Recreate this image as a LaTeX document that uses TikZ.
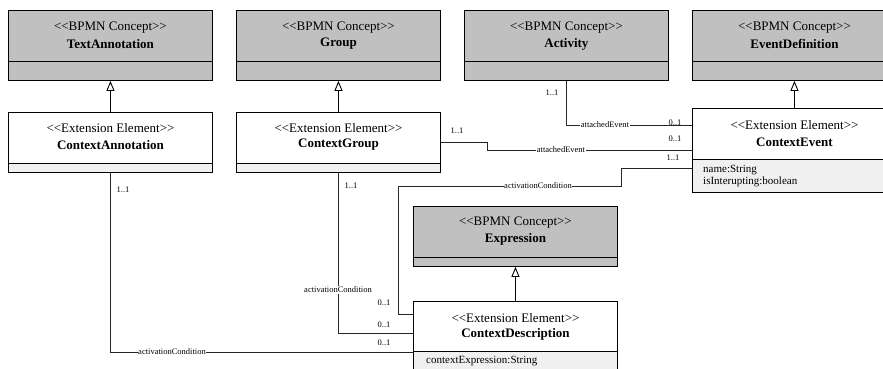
\documentclass[tikz,border=0pt]{standalone}
\usepackage{fontspec}
\setmainfont{Liberation Serif}
\usetikzlibrary{arrows.meta}
\definecolor{headgray}{RGB}{192,192,192}
\definecolor{attrgray}{RGB}{240,240,240}
\newcommand\stereo[1]{<\kern0pt<#1>\kern0pt>}
\tikzset{
  cls/.style={draw=black, line width=0.9pt, minimum width=204pt, anchor=north west, inner sep=0pt},
  stype/.style={font=\fontsize{13}{14}\selectfont, inner sep=0pt},
  cname/.style={font=\fontsize{13}{14}\selectfont\bfseries, inner sep=0pt},
  attr/.style={font=\fontsize{11}{12}\selectfont, inner sep=0pt, anchor=west},
  conn/.style={draw=black!85, line width=0.9pt},
  inh/.style={draw=black, line width=0.9pt, -{Triangle[open, length=10pt, width=8pt]}},
  lbl/.style={font=\fontsize{8.5}{9}\selectfont, fill=white, inner sep=0.6pt},
  mult/.style={font=\fontsize{8.5}{9}\selectfont, inner sep=0pt}
}
\begin{document}
\begin{tikzpicture}[x=1pt,y=-1pt]
\useasboundingbox (0,0) rectangle (883,368);
\clip (0,0) rectangle (883,368);
% ---- BPMN concept boxes
\node[cls, fill=headgray, minimum height=70pt] (ta) at (8,10) {};
\draw[line width=0.9pt] (ta.west |- 0,61) -- (ta.east |- 0,61);
\node[stype] (ta-s) at (ta.north |- 0,28) {\stereo{BPMN Concept}};
\node[cname] (ta-n) at (ta.north |- 0,44) {TextAnnotation};

\node[cls, fill=headgray, minimum height=70pt] (grp) at (236,10) {};
\draw[line width=0.9pt] (grp.west |- 0,61) -- (grp.east |- 0,61);
\node[stype] (grp-s) at (grp.north |- 0,28) {\stereo{BPMN Concept}};
\node[cname] (grp-n) at (grp.north |- 0,44) {Group};

\node[cls, fill=headgray, minimum height=70pt] (act) at (464,10) {};
\draw[line width=0.9pt] (act.west |- 0,61) -- (act.east |- 0,61);
\node[stype] (act-s) at (act.north |- 0,28) {\stereo{BPMN Concept}};
\node[cname] (act-n) at (act.north |- 0,44) {Activity};

\node[cls, fill=headgray, minimum height=70pt] (ed) at (692,10) {};
\draw[line width=0.9pt] (ed.west |- 0,61) -- (ed.east |- 0,61);
\node[stype] (ed-s) at (ed.north |- 0,28) {\stereo{BPMN Concept}};
\node[cname] (ed-n) at (ed.north |- 0,44) {EventDefinition};

\node[cls, fill=headgray, minimum height=60pt] (ex) at (413,206) {};
\draw[line width=0.9pt] (ex.west |- 0,257) -- (ex.east |- 0,257);
\node[stype] (ex-s) at (ex.north |- 0,223) {\stereo{BPMN Concept}};
\node[cname] (ex-n) at (ex.north |- 0,239) {Expression};

% ---- extension elements
\node[cls, fill=white, minimum height=60pt] (can) at (8,112) {};
\filldraw[fill=attrgray, line width=0.9pt] (can.west |- 0,163) rectangle (can.south east);
\node[stype] (can-s) at (can.north |- 0,128) {\stereo{Extension Element}};
\node[cname] (can-n) at (can.north |- 0,145) {ContextAnnotation};

\node[cls, fill=white, minimum height=60pt] (cg) at (236,112) {};
\filldraw[fill=attrgray, line width=0.9pt] (cg.west |- 0,163) rectangle (cg.south east);
\node[stype] (cg-s) at (cg.north |- 0,128) {\stereo{Extension Element}};
\node[cname] (cg-n) at (cg.north |- 0,145) {ContextGroup};

\node[cls, fill=white, minimum height=84pt] (ce) at (692,108) {};
\filldraw[fill=attrgray, line width=0.9pt] (ce.west |- 0,159) rectangle (ce.south east);
\node[stype] (ce-s) at (ce.north |- 0,125) {\stereo{Extension Element}};
\node[cname] (ce-n) at (ce.north |- 0,142) {ContextEvent};
\node[attr] (ce-a1) at (703,170) {name:String};
\node[attr] (ce-a2) at (703,182) {isInterupting:boolean};

\node[cls, fill=white, minimum height=74pt] (cd) at (413,301) {};
\filldraw[fill=attrgray, line width=0.9pt] (cd.west |- 0,351) rectangle (cd.south east);
\node[stype] (cd-s) at (cd.north |- 0,318) {\stereo{Extension Element}};
\node[cname] (cd-n) at (cd.north |- 0,334) {ContextDescription};
\node[attr] (cd-a1) at (426,361) {contextExpression:String};

% ---- generalisations
\draw[inh] (can.north) -- (ta.south);
\draw[inh] (cg.north) -- (grp.south);
\draw[inh] (ce.north) -- (ed.south);
\draw[inh] (cd.north) -- (ex.south);

% ---- associations
\coordinate (ce-a) at ([yshift=25pt]ce.west);
\coordinate (ce-c) at ([yshift=-18pt]ce.west);
\coordinate (cd-1) at ([yshift=-13pt]cd.north west);
\coordinate (cd-2) at ([yshift=-32pt]cd.north west);
\coordinate (cd-3) at ([yshift=-51pt]cd.north west);

\draw[conn] (act.south) |- (ce-a);
\draw[conn] (cg.east) -- ++(47,0) |- (ce.west);
\draw[conn] (ce-c) -- ++(-71,0) -- ++(0,18) -- ++(-223,0) |- (cd-1);
\draw[conn] (cg.south) |- (cd-2);
\draw[conn] (can.south) |- (cd-3);

% ---- association labels
\node[lbl] (l1) at (605,125) {attachedEvent};
\node[lbl] (l2) at (561,150) {attachedEvent};
\node[lbl] (l3) at (538,186) {activationCondition};
\node[lbl] (l4) at (338,290) {activationCondition};
\node[lbl] (l5) at (172,352) {activationCondition};

\node[mult] (m1) at (552,93) {1..1};
\node[mult] (m2) at (675,123) {0..1};
\node[mult] (m3) at (457,131) {1..1};
\node[mult] (m4) at (675,139) {0..1};
\node[mult] (m5) at (673,158) {1..1};
\node[mult] (m6) at (384,303) {0..1};
\node[mult] (m7) at (351,186) {1..1};
\node[mult] (m8) at (384,325) {0..1};
\node[mult] (m9) at (123,190) {1..1};
\node[mult] (m10) at (384,343) {0..1};
\end{tikzpicture}
\end{document}
